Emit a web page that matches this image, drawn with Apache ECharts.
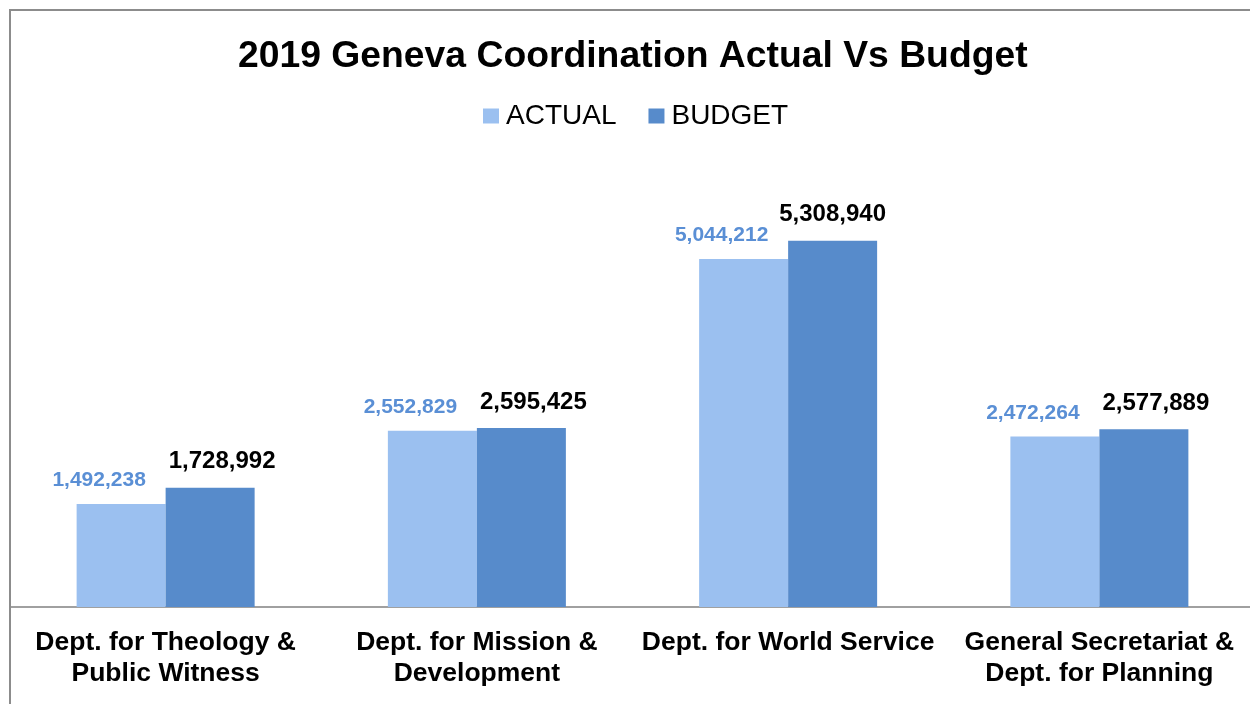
<!DOCTYPE html>
<html>
<head>
<meta charset="utf-8">
<script src="https://cdn.jsdelivr.net/npm/echarts@6/dist/echarts.min.js"></script>
<style>
  html, body { margin: 0; padding: 0; background: #fff; overflow: hidden; }
  #chart { width: 1255px; height: 704px; }
</style>
</head>
<body>
<div id="chart"></div>
<script>
var categories = [
  "Dept. for Theology &\nPublic Witness",
  "Dept. for Mission &\nDevelopment",
  "Dept. for World Service",
  "General Secretariat &\nDept. for Planning"
];
var actual = [1492238, 2552829, 5044212, 2472264];
var budget = [1728992, 2595425, 5308940, 2577889];

var font = "'Liberation Sans', Arial, sans-serif";

function fmt(p) {
  return p.value.toLocaleString("en-US");
}

var myChart = echarts.init(document.getElementById("chart"));
var option = {
  backgroundColor: "#fff",
  animation: false,
  title: {
    text: "2019 Geneva Coordination Actual Vs Budget",
    left: 233,
    top: 33,
    textStyle: { fontFamily: font, fontSize: 37.3, fontWeight: "bold", color: "#000" }
  },
  legend: {
    data: ["ACTUAL", "BUDGET"],
    left: 483,
    top: 102,
    padding: 0,
    itemWidth: 16,
    itemHeight: 15,
    itemGap: 32,
    icon: "rect",
    textStyle: { fontFamily: font, fontSize: 28, color: "#000", padding: [0, 0, 0, 2] }
  },
  graphic: [
    {
      type: "rect",
      shape: { x: 10, y: 10, width: 1300, height: 800 },
      style: { fill: "none", stroke: "#8c8c8c", lineWidth: 2 },
      z: 10
    }
  ],
  grid: { left: 10, right: 0, top: 193, bottom: 97 },
  xAxis: {
    type: "category",
    data: categories,
    axisLine: { lineStyle: { color: "#a0a0a0", width: 2 } },
    axisTick: { show: false },
    axisLabel: {
      interval: 0,
      margin: 20,
      fontFamily: font,
      fontSize: 26.5,
      fontWeight: "bold",
      color: "#000",
      lineHeight: 31
    }
  },
  yAxis: {
    type: "value",
    min: 0,
    max: 6000000,
    show: false,
    splitLine: { show: false }
  },
  series: [
    {
      name: "ACTUAL",
      type: "bar",
      barWidth: 89,
      barGap: "0%",
      data: actual,
      itemStyle: { color: "#9bc0f0" },
      label: {
        show: true,
        position: "top",
        distance: 13,
        offset: [-22, 0],
        formatter: fmt,
        fontFamily: font,
        fontSize: 21,
        fontWeight: "bold",
        color: "#5a8fd5"
      }
    },
    {
      name: "BUDGET",
      type: "bar",
      barWidth: 89,
      barGap: "0%",
      data: budget.map(function (v, i) {
        return i === 2 ? { value: v, label: { offset: [0, 0] } } : v;
      }),
      itemStyle: { color: "#578bcb" },
      label: {
        show: true,
        position: "top",
        distance: 14,
        offset: [12, 0],
        formatter: fmt,
        fontFamily: font,
        fontSize: 24,
        fontWeight: "bold",
        color: "#000"
      }
    }
  ]
};
myChart.setOption(option);
</script>
</body>
</html>
